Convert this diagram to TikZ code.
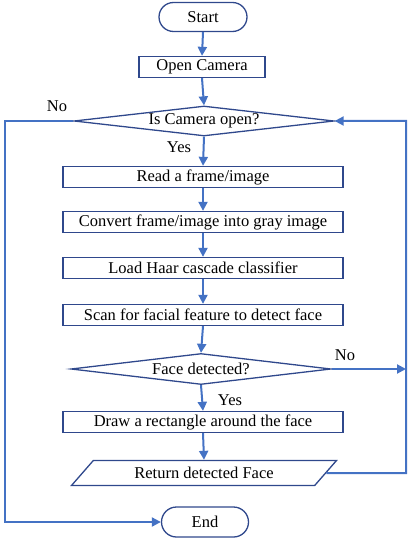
\documentclass[tikz,border=0pt]{standalone}
\usepackage{fontspec}
\setmainfont{Liberation Serif}
\usetikzlibrary{shapes.geometric,shapes.misc,arrows.meta}

\definecolor{boxblue}{RGB}{47,72,140}
\definecolor{linkblue}{RGB}{68,114,196}

\def\leftx{5}
\def\rightx{406}
\def\arr #1 #2 {\draw[link] (#1) -- (#2);}

\begin{document}
\begin{tikzpicture}[
x=1pt, y=-1pt,
font=\fontsize{16.5}{18}\selectfont,
terminal/.style={rounded rectangle, draw=boxblue, line width=1.3pt, minimum width=88pt, minimum height=29pt, inner sep=0pt},
process/.style={rectangle, draw=boxblue, line width=1.3pt, minimum height=21pt, inner sep=0pt},
decision/.style={diamond, draw=boxblue, line width=1.3pt, aspect=9, minimum width=260pt, minimum height=30pt, inner sep=0pt},
io/.style={trapezium, trapezium left angle=28, trapezium right angle=152, trapezium stretches body, draw=boxblue, line width=1.3pt, minimum width=265pt, minimum height=25pt, inner sep=0pt},
link/.style={draw=linkblue, line width=2pt, -{Triangle[length=9pt,width=9pt]}},
]
\useasboundingbox (0,0) rectangle (411,540);

\node[terminal] at (203,17) (start) {Start};
\node[process, minimum width=126pt] at (202,67) (open) {Open Camera};
\node[decision] at (204,121) (camopen) {Is Camera open?};
\node[process, minimum width=280pt] at (203,177) (read) {Read a frame/image};
\node[process, minimum width=280pt] at (203,222) (gray) {Convert frame/image into gray image};
\node[process, minimum width=280pt] at (203,268) (haar) {Load Haar cascade classifier};
\node[process, minimum width=280pt] at (203,315) (scan) {Scan for facial feature to detect face};
\node[decision, minimum height=31pt] at (201,369) (face) {Face detected?};
\node[process, minimum width=280pt] at (203,422) (rect) {Draw a rectangle around the face};
\node[io] at (204,473) (ret) {Return detected Face};
\node[terminal, minimum width=87pt, minimum height=30pt] at (205,522) (end) {End};

\node at (57,106) (no1) {No};
\node at (179,147) (yes1) {Yes};
\node at (345,355) (no2) {No};
\node at (230,400) (yes2) {Yes};

\coordinate (tl) at (\leftx,121);
\coordinate (bl) at (\leftx,522);
\coordinate (tr) at (\rightx,121);
\coordinate (br) at (\rightx,473);
\coordinate (fr) at (\rightx,369);

% Main flow:
\arr{start.south} {open.north}
\arr{open.south} {camopen.north}
\arr{camopen.south} {read.north}
\arr{read.south} {gray.north}
\arr{gray.south} {haar.north}
\arr{haar.south} {scan.north}
\arr{scan.south} {face.north}
\arr{face.south} {rect.north}
\arr{rect.south} {ret.north}

% Loops:
\draw[link] (camopen.west) -- (tl) -- (bl) -- (end.west);
\draw[link] (ret.east) -- (br) -- (tr) -- (camopen.east);
\draw[link] (face.east) -- (fr);
\end{tikzpicture}
\end{document}
